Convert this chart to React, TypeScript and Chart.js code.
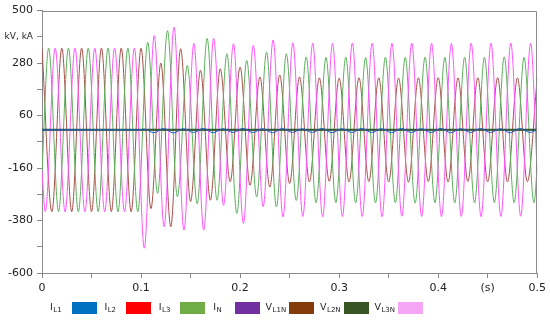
import React, { useEffect, useRef } from "react";
import { Chart, registerables } from "chart.js";

Chart.register(...registerables);

// ---------- axes ----------
const X_MIN = 0;
const X_MAX = 0.5;
const X_STEP = 0.05;
const Y_MIN = -600;
const Y_MAX = 500;
const Y_STEP = 110;
const xTickLabels = ["0", "0.1", "0.2", "0.3", "0.4", "0.5"];
const yTickLabels = ["-600", "-380", "-160", "60", "280", "500"];
const X_UNIT = "(s)";
const Y_UNIT = "kV, kA";

// ---------- legend ----------
const seriesMain = ["I", "I", "I", "I", "V", "V", "V"];
const seriesSub = ["L1", "L2", "L3", "N", "L1N", "L2N", "L3N"];
const legendColors = ["#0070C0", "#FF0000", "#70AD47", "#7030A0", "#843C0C", "#375623", "#F4A6F4"];
const lineColors = ["#1F5FD0", "#E02020", "#2E5E34", "#7030A0", "#A8504A", "#5DB05D", "#FF55FF"];
const lineWidths = [1, 1, 2, 1, 1, 1, 1];
const drawOrder = [0, 3, 1, 4, 7, 6, 5];

// ---------- series (time in s, value in kV / kA) ----------
const tIL1 = [0, 0.1, 0.1028, 0.1128, 0.1228, 0.1328, 0.1428, 0.1528, 0.1628, 0.1728, 0.1828, 0.1928, 0.2028, 0.2128, 0.2228, 0.2328, 0.2428, 0.2528, 0.2628, 0.2728, 0.2828, 0.2928, 0.3028, 0.3128, 0.3228, 0.3328, 0.3428, 0.3528, 0.3628, 0.3728, 0.3828, 0.3928, 0.4028, 0.4128, 0.4228, 0.4328, 0.4428, 0.4528, 0.4628, 0.4728, 0.4828, 0.4928, 0.5];
const vIL1 = [0, 0, 4, -12, 6, -13, 5, -11, 6, -12, 5, -11, 6, -11, 5, -12, 6, -11, 5, -11, 6, -12, 5, -11, 6, -11, 5, -12, 6, -11, 5, -11, 6, -12, 5, -11, 6, -11, 5, -12, 6, -11, 2];

const tIL2 = [0, 0.5];
const vIL2 = [0, 0];
const tIL3 = [0, 0.5];
const vIL3 = [0, 0];
const tIN = [0, 0.5];
const vIN = [0, 0];

const tVL1N = [0, 0.01, 0.02, 0.03, 0.04, 0.05, 0.06, 0.07, 0.08, 0.09, 0.1, 0.11, 0.12, 0.13, 0.14, 0.15, 0.16, 0.17, 0.18, 0.19, 0.2, 0.21, 0.22, 0.23, 0.24, 0.25, 0.26, 0.27, 0.28, 0.29, 0.3, 0.31, 0.32, 0.33, 0.34, 0.35, 0.36, 0.37, 0.38, 0.39, 0.4, 0.41, 0.42, 0.43, 0.44, 0.45, 0.46, 0.47, 0.48, 0.49, 0.5];
const vVL1N = [343, -343, 343, -343, 343, -343, 343, -343, 343, -343, 342, -330, 280, -406, 340, -300, 250, -295, 256, -218, 263, -232, 222, -240, 230, -225, 222, -218, 218, -216, 217, -218, 219, -217, 218, -218, 217, -219, 218, -217, 219, -218, 218, -217, 218, -218, 219, -218, 218, -217, 218];

const tVL2N = [0, 0.0067, 0.0167, 0.0267, 0.0367, 0.0467, 0.0567, 0.0667, 0.0767, 0.0867, 0.0967, 0.1067, 0.1167, 0.1267, 0.1367, 0.1467, 0.1567, 0.1667, 0.1767, 0.1867, 0.1967, 0.2067, 0.2167, 0.2267, 0.2367, 0.2467, 0.2567, 0.2667, 0.2767, 0.2867, 0.2967, 0.3067, 0.3167, 0.3267, 0.3367, 0.3467, 0.3567, 0.3667, 0.3767, 0.3867, 0.3967, 0.4067, 0.4167, 0.4267, 0.4367, 0.4467, 0.4567, 0.4667, 0.4767, 0.4867, 0.4967, 0.5];
const vVL2N = [-171, 343, -343, 343, -343, 343, -343, 343, -343, 343, -343, 367, -266, 416, -280, 270, -310, 383, -295, 319, -350, 291, -281, 326, -323, 319, -296, 306, -306, 304, -305, 305, -306, 303, -306, 305, -305, 304, -307, 305, -305, 304, -306, 305, -306, 304, -305, 306, -306, 304, -306, -152];

const tVL3N = [0, 0.0033, 0.0133, 0.0233, 0.0333, 0.0433, 0.0533, 0.0633, 0.0733, 0.0833, 0.0933, 0.1033, 0.1133, 0.1233, 0.1333, 0.1433, 0.1533, 0.1633, 0.1733, 0.1833, 0.1933, 0.2033, 0.2133, 0.2233, 0.2333, 0.2433, 0.2533, 0.2633, 0.2733, 0.2833, 0.2933, 0.3033, 0.3133, 0.3233, 0.3333, 0.3433, 0.3533, 0.3633, 0.3733, 0.3833, 0.3933, 0.4033, 0.4133, 0.4233, 0.4333, 0.4433, 0.4533, 0.4633, 0.4733, 0.4833, 0.4933, 0.5];
const vVL3N = [-171, -343, 343, -343, 343, -343, 343, -343, 343, -343, 343, -496, 395, -406, 430, -420, 362, -420, 383, -316, 361, -392, 354, -322, 377, -365, 365, -363, 363, -364, 362, -363, 364, -363, 363, -364, 363, -362, 364, -363, 363, -364, 362, -363, 363, -364, 363, -363, 364, -362, 363, -181];

const seriesTimes = [tIL1, tIL2, tIL3, tIN, tVL1N, tVL2N, tVL3N];
const seriesValues = [vIL1, vIL2, vIL3, vIN, vVL1N, vVL2N, vVL3N];

const FONT = "'DejaVu Sans', Verdana, sans-serif";
const AXIS_COLOR = "#8a8a8a";
const TEXT_COLOR = "#222222";

const framePlugin = {
  id: "frame",
  afterDraw(chart: any) {
    const { ctx, chartArea: a } = chart;
    ctx.save();
    ctx.strokeStyle = AXIS_COLOR;
    ctx.lineWidth = 1;
    const top = Math.round(a.top) + 0.5;
    const right = Math.round(a.right) - 0.5;
    ctx.beginPath();
    ctx.moveTo(Math.round(a.left), top);
    ctx.lineTo(right, top);
    ctx.lineTo(right, Math.round(a.bottom));
    ctx.stroke();
    ctx.restore();
  },
};

const legendPlugin = {
  id: "subLegend",
  afterDraw(chart: any) {
    const { ctx, chartArea: a } = chart;
    const cellW = 54.4;
    const boxTop = a.bottom + 29;
    ctx.save();
    ctx.textBaseline = "alphabetic";
    ctx.textAlign = "left";
    chart.data.datasets.forEach((ds: any, i: number) => {
      const x0 = a.left + 6 + i * cellW;
      let tx = x0 + (ds.mainText === "I" ? 2 : 0);
      ctx.fillStyle = TEXT_COLOR;
      ctx.font = `9.5px ${FONT}`;
      ctx.fillText(ds.mainText, tx, boxTop + 8);
      tx += ctx.measureText(ds.mainText).width + 0.5;
      ctx.font = `7px ${FONT}`;
      ctx.fillText(ds.subText, tx, boxTop + 10);
      ctx.fillStyle = ds.legendColor;
      ctx.fillRect(Math.round(x0 + 23.5), boxTop, 25, 12);
    });
    ctx.restore();
  },
};

export default function App() {
  const ref = useRef<HTMLCanvasElement | null>(null);

  useEffect(() => {
    document.body.style.margin = "0";
    const canvas = ref.current;
    if (!canvas) return;
    const datasets = seriesTimes.map((ts, i) => ({
      label: seriesMain[i] + seriesSub[i],
      mainText: seriesMain[i],
      subText: seriesSub[i],
      legendColor: legendColors[i],
      data: ts.map((x, j) => ({ x, y: seriesValues[i][j] })),
      borderColor: lineColors[i],
      backgroundColor: legendColors[i],
      borderWidth: lineWidths[i],
      pointRadius: 0,
      pointHoverRadius: 0,
      fill: false,
      cubicInterpolationMode: "monotone" as const,
      order: drawOrder[i],
    }));

    const chart = new Chart(canvas, {
      type: "line",
      data: { datasets: datasets as any },
      options: {
        responsive: false,
        animation: false,
        events: [],
        layout: { padding: { top: 10, right: 12, left: 0, bottom: 0 } },
        plugins: { legend: { display: false }, tooltip: { enabled: false } },
        scales: {
          x: {
            type: "linear",
            min: X_MIN,
            max: X_MAX,
            afterFit: (s: any) => {
              s.height = 51;
            },
            ticks: {
              stepSize: X_STEP,
              autoSkip: false,
              maxRotation: 0,
              padding: 4,
              color: TEXT_COLOR,
              font: { family: FONT, size: 11 },
              callback: (_v: any, i: number) =>
                i % 2 === 0 ? xTickLabels[i / 2] : i === 9 ? X_UNIT : "",
            },
            grid: { drawOnChartArea: false, drawTicks: true, tickLength: 5, color: AXIS_COLOR },
            border: { color: AXIS_COLOR },
          },
          y: {
            type: "linear",
            min: Y_MIN,
            max: Y_MAX,
            afterFit: (s: any) => {
              s.width = 42;
            },
            ticks: {
              stepSize: Y_STEP,
              autoSkip: false,
              padding: 4,
              color: TEXT_COLOR,
              font: (c: any) => ({ family: FONT, size: c.tick && c.tick.value === 390 ? 9 : 11 }),
              callback: (v: any, i: number) =>
                i % 2 === 0 ? yTickLabels[i / 2] : v === 390 ? Y_UNIT : "",
            },
            grid: { drawOnChartArea: false, drawTicks: true, tickLength: 5, color: AXIS_COLOR },
            border: { color: AXIS_COLOR },
          },
        },
      },
      plugins: [framePlugin, legendPlugin],
    });
    return () => chart.destroy();
  }, []);

  return (
    <div style={{ width: 550, height: 324 }}>
      <canvas ref={ref} width={550} height={324} />
    </div>
  );
}
